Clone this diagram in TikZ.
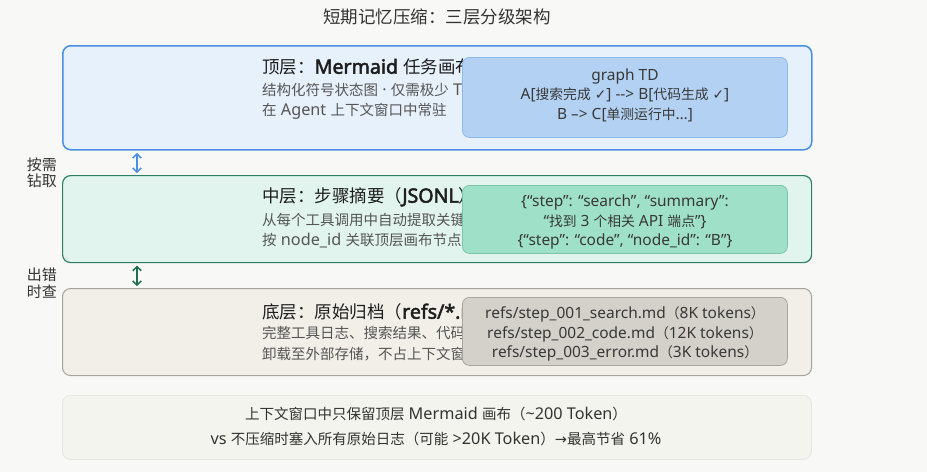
\documentclass[tikz,border=0pt]{standalone}
\usepackage{fontspec}
\setmainfont{Noto Sans}[Scale=1.12,AutoFakeBold=2.5]
\newfontfamily\latf{Noto Sans}[Scale=1.12,AutoFakeBold=2.5]
\newfontfamily\cjkf{Noto Sans CJK SC}
\newfontfamily\djv{DejaVu Sans}
\usetikzlibrary{arrows.meta}
\XeTeXinterchartokenstate=1
\newXeTeXintercharclass\CJKcls
\newcount\cjkcnt
\def\setcjkrange#1#2{\cjkcnt=#1\relax\loop\XeTeXcharclass\cjkcnt=\CJKcls\relax\ifnum\cjkcnt<#2\relax\advance\cjkcnt by 1\relax\repeat}
\setcjkrange{"4E00}{"9FFF}
\setcjkrange{"3000}{"303F}
\setcjkrange{"FF00}{"FFEF}
\XeTeXinterchartoks 0 \CJKcls = {\cjkf}
\XeTeXinterchartoks 4095 \CJKcls = {\cjkf}
\XeTeXinterchartoks \CJKcls 0 = {\latf}
\XeTeXinterchartoks \CJKcls 4095 = {\latf}
\definecolor{bgc}{HTML}{F8F8F6}
\definecolor{topfill}{HTML}{E7F1FC}
\definecolor{topdraw}{HTML}{4A90E2}
\definecolor{topinfill}{HTML}{B3D2F3}
\definecolor{topindraw}{HTML}{8DB8EA}
\definecolor{midfill}{HTML}{E1F4EE}
\definecolor{middraw}{HTML}{2E8064}
\definecolor{midinfill}{HTML}{9FE0C8}
\definecolor{midindraw}{HTML}{7CC5A9}
\definecolor{botfill}{HTML}{F2EFE9}
\definecolor{botdraw}{HTML}{A8A39A}
\definecolor{botinfill}{HTML}{D4D1CA}
\definecolor{botindraw}{HTML}{A9A59E}
\definecolor{footfill}{HTML}{F4F4EE}
\definecolor{footdraw}{HTML}{E6E6E0}
\definecolor{ttlc}{HTML}{1E1E1E}
\definecolor{subc}{HTML}{555555}
\definecolor{intc}{HTML}{383838}
\definecolor{headc}{HTML}{333333}
\definecolor{arrtop}{HTML}{4A90E2}
\definecolor{arrmid}{HTML}{1E6E50}
\begin{document}
\begin{tikzpicture}[x=1pt,y=-1pt,
  layer/.style={rounded corners=8pt, anchor=north west, inner sep=0pt, minimum width=749pt},
  inbox/.style={rounded corners=7pt, anchor=north west, inner sep=0pt, line width=0.8pt, minimum width=325pt, minimum height=68pt},
  ttl/.style={anchor=west, inner sep=0pt, font=\fontsize{17.5}{20}\selectfont, text=ttlc},
  subt/.style={anchor=west, inner sep=0pt, font=\fontsize{14.5}{17}\selectfont, text=subc},
  intext/.style={align=center, inner sep=0pt, font=\fontsize{13.8}{19.6}\selectfont, text=intc},
  sidel/.style={align=center, inner sep=0pt, font=\fontsize{15}{16.5}\selectfont, text=headc},
  arr/.style={{Straight Barb[length=4pt,width=8.5pt]}-{Straight Barb[length=4pt,width=8.5pt]}, line width=1.5pt}
]
\useasboundingbox (0,0) rectangle (927,472);
\fill[bgc] (0,0) rectangle (927,472);

\node[inner sep=0pt, font=\fontsize{17.5}{20}\selectfont, text=headc] (title) at (437,17) {短期记忆压缩：三层分级架构};

% top layer
\node[layer, draw=topdraw, fill=topfill, line width=1.5pt, minimum height=104pt] (L1) at (62,45) {};
\node[ttl] (t1) at (262,67) {顶层：\textbf{Mermaid} 任务画布};
\node[subt] (s1a) at (262,90) {结构化符号状态图 · 仅需极少 Token};
\node[subt] (s1b) at (262,111) {在 Agent 上下文窗口中常驻};
\node[inbox, draw=topindraw, fill=topinfill, minimum height=80pt] (I1) at (462,57) {};
\node[intext] (c1) at (625,95) {graph TD\\A[搜索完成 \mbox{\djv ✓}] --> B[代码生成 \mbox{\djv ✓}]\\B --> C[单测运行中…]};

% middle layer
\node[layer, draw=middraw, fill=midfill, line width=1.2pt, minimum height=87pt] (L2) at (62,175) {};
\node[ttl] (t2) at (262,197) {中层：步骤摘要（\textbf{JSONL}）};
\node[subt] (s2a) at (262,220) {从每个工具调用中自动提取关键};
\node[subt] (s2b) at (262,241) {按 node\_id 关联顶层画布节点};
\node[inbox, draw=midindraw, fill=midinfill] (I2) at (462,185) {};
\node[intext] (c2) at (625,222) {\{“step”: “search”, “summary”:\\“找到 3 个相关 API 端点”\}\\\{“step”: “code”, “node\_id”: “B”\}};

% bottom layer
\node[layer, draw=botdraw, fill=botfill, line width=1pt, minimum height=87pt] (L3) at (62,288) {};
\node[ttl] (t3) at (262,312) {底层：原始归档（\textbf{refs/*.md}）};
\node[subt] (s3a) at (262,333) {完整工具日志、搜索结果、代码};
\node[subt] (s3b) at (262,354) {卸载至外部存储，不占上下文窗};
\node[inbox, draw=botindraw, fill=botinfill] (I3) at (462,297) {};
\node[intext] (c3) at (625,334) {refs/step\_001\_search.md（8K tokens）\\refs/step\_002\_code.md（12K tokens）\\refs/step\_003\_error.md（3K tokens）};

% connectors
\draw[arr, arrtop] ([xshift=75pt,yshift=-2.5pt]L1.south west) -- ([xshift=75pt,yshift=2pt]L2.north west);
\draw[arr, arrmid] ([xshift=75pt,yshift=-2.5pt]L2.south west) -- ([xshift=75pt,yshift=2pt]L3.north west);
\node[sidel] (lab1) at (42,173) {按需\\钻取};
\node[sidel] (lab2) at (42,283) {出错\\时查};

% footer
\node[layer, draw=footdraw, fill=footfill, line width=0.8pt, minimum height=64pt] (F) at (62,395) {};
\node[align=center, inner sep=0pt, font=\fontsize{14.5}{25}\selectfont, text=headc] (ft) at (436,426) {上下文窗口中只保留顶层 Mermaid 画布（\textasciitilde200 Token）\\vs 不压缩时塞入所有原始日志（可能 >20K Token）\mbox{\djv →}最高节省 61\%};
\end{tikzpicture}
\end{document}
